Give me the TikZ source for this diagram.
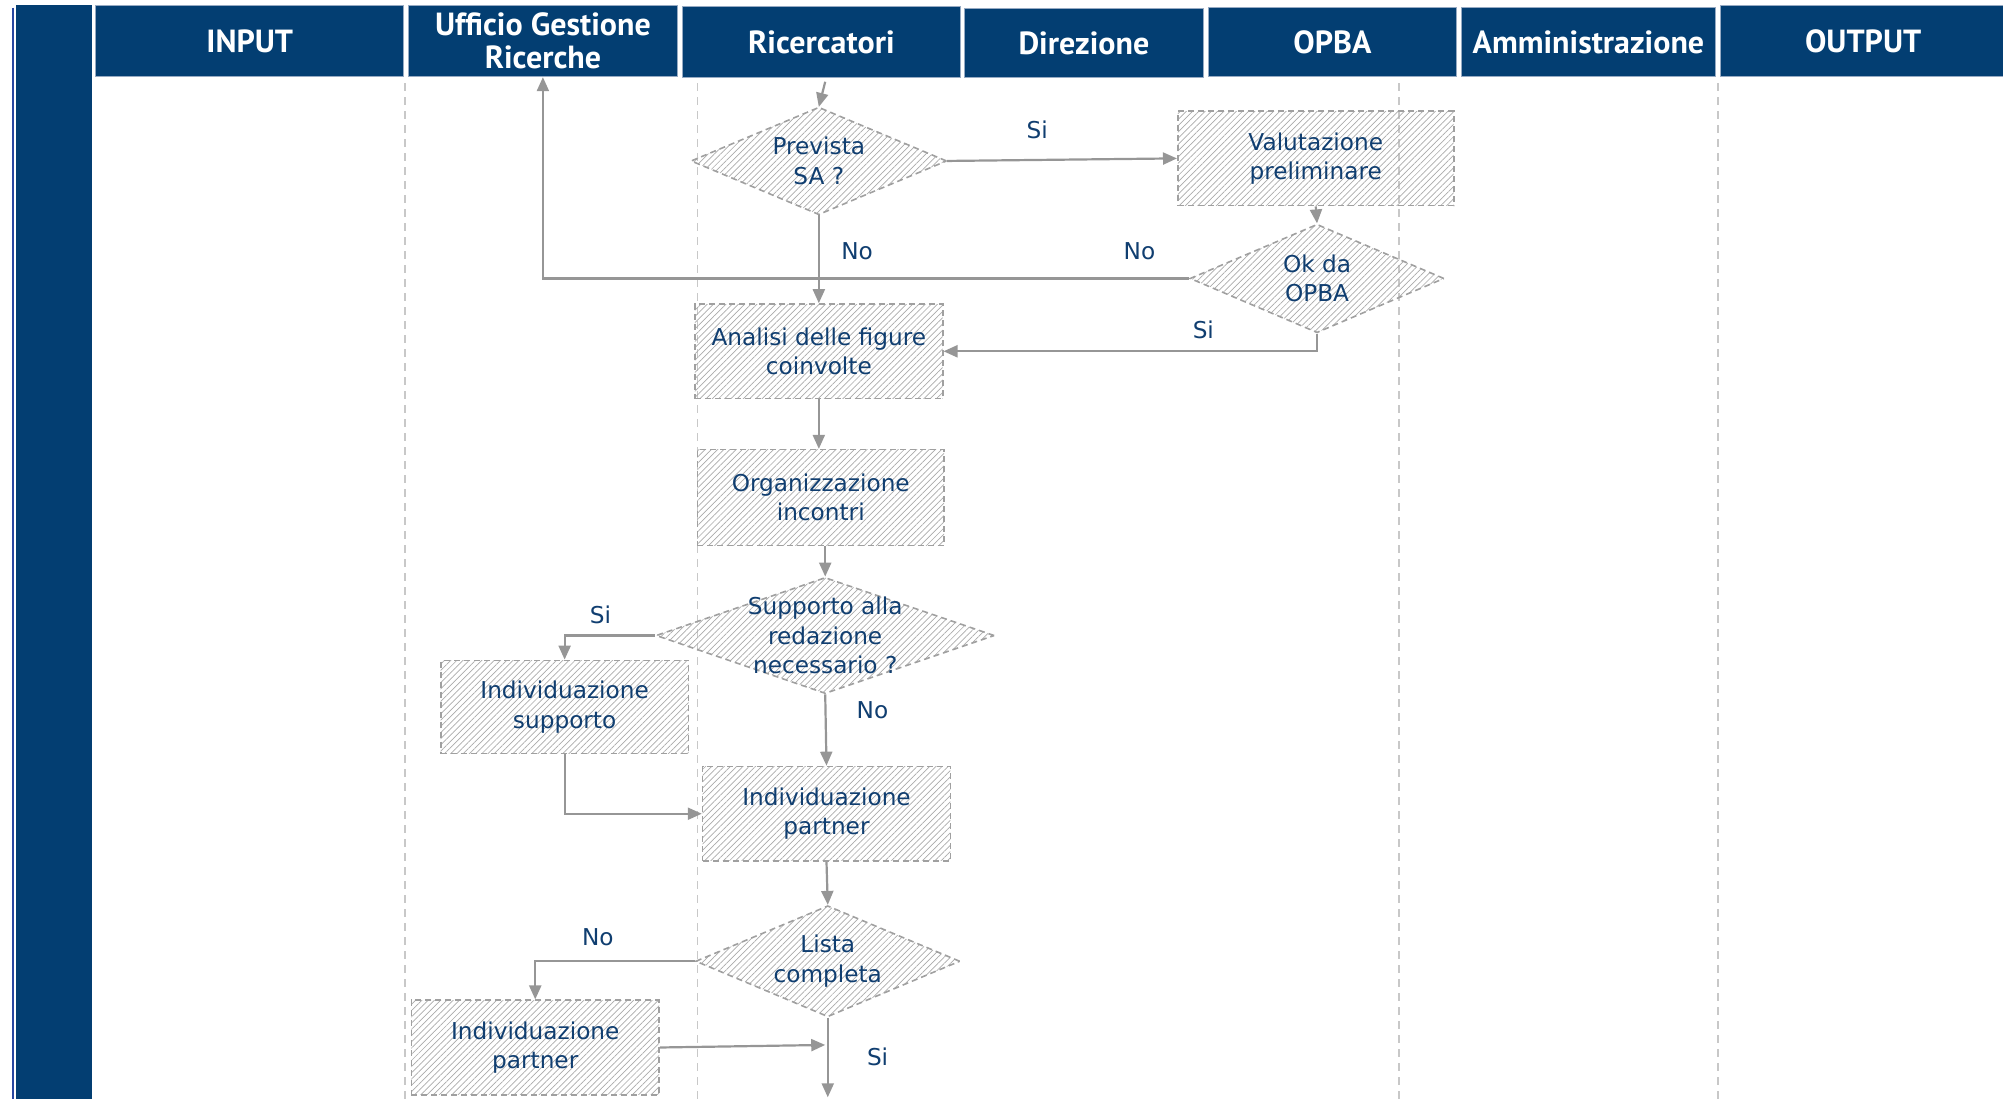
\documentclass[tikz,border=0pt]{standalone}
\usepackage{fontspec}
\setmainfont{DejaVu Sans}
\newfontfamily\hdfont{PT Sans}
\usetikzlibrary{arrows.meta,shapes.geometric,patterns.meta}
\definecolor{navy}{RGB}{3,62,114}
\definecolor{txtblue}{RGB}{16,62,112}
\definecolor{arrgray}{RGB}{150,150,150}
\definecolor{boxgray}{RGB}{160,160,160}
\definecolor{lanegray}{RGB}{200,200,200}
\definecolor{hatch}{RGB}{170,170,170}
\definecolor{hdborder}{RGB}{150,170,195}
\definecolor{edgeblue}{RGB}{40,70,160}
\begin{document}
\begin{tikzpicture}[x=0.6386pt,y=-0.6386pt,
  hd/.style={draw=hdborder,line width=0.5pt,fill=navy,text=white,
    font=\hdfont\bfseries\fontsize{16}{16.6}\selectfont,align=center,inner sep=0pt},
  shaded/.style={draw=boxgray,dash pattern=on 3pt off 2pt,line width=0.8pt,
    pattern={Lines[angle=45,distance=2.2pt,line width=0.35pt]},pattern color=hatch},
  proc/.style={shaded,text=txtblue,font=\fontsize{11.6}{14.7}\selectfont,align=center,
    inner sep=0pt,minimum width={194*0.6386pt},minimum height={74*0.6386pt}},
  dec/.style={shaded,diamond,inner sep=0pt},
  dtxt/.style={text=txtblue,font=\fontsize{11.6}{14.7}\selectfont,align=center},
  lab/.style={text=txtblue,font=\fontsize{11.6}{14.7}\selectfont,inner sep=0pt},
  arr/.style={draw=arrgray,line width=1.1pt,-{Triangle[length=7pt,width=6pt]}},
  lane/.style={draw=lanegray,line width=0.8pt,dash pattern=on 4pt off 3pt}
]
\useasboundingbox (0,0) rectangle (1568,860);
% left bar
\fill[navy] (12.5,4) rectangle (72,860);
\draw[edgeblue,line width=0.8pt] (10,6) -- (10,860);
% headers
\node[hd,minimum width={241*0.6386pt},minimum height={56*0.6386pt}] (hin) at (195.5,32) {INPUT};
\node[hd,minimum width={210*0.6386pt},minimum height={56*0.6386pt}] (huff) at (425,32) {Ufficio Gestione\\Ricerche};
\node[hd,minimum width={218*0.6386pt},minimum height={56*0.6386pt}] (hric) at (643,33) {Ricercatori};
\node[hd,minimum width={187*0.6386pt},minimum height={54*0.6386pt}] (hdir) at (848.5,34) {Direzione};
\node[hd,minimum width={194*0.6386pt},minimum height={54*0.6386pt}] (hopba) at (1043,33) {OPBA};
\node[hd,minimum width={199*0.6386pt},minimum height={54*0.6386pt}] (hamm) at (1243.5,33) {Amministrazione};
\node[hd,minimum width={223*0.6386pt},minimum height={56*0.6386pt}] (hout) at (1458.5,32) {OUTPUT};
% lanes
\draw[lane] (317,65) -- (317,860);
\draw[lane] (546,65) -- (546,860);
\draw[lane] (1095,65) -- (1095,860);
\draw[lane] (1345,65) -- (1345,860);
% nodes
\node[dec,minimum width={200*0.6386pt},minimum height={84*0.6386pt}] (d1) at (641,126) {};
\node[dtxt] (d1t) at (d1) {Prevista\\SA ?};
\node[proc,minimum width={216*0.6386pt}] (r2) at (1030,124) {Valutazione\\preliminare};
\node[dec,minimum width={199*0.6386pt},minimum height={85*0.6386pt}] (d3) at (1031,218) {};
\node[dtxt] (d3t) at (d3) {Ok da\\OPBA};
\node[proc] (r4) at (641,275) {Analisi delle figure\\coinvolte};
\node[proc,minimum width={193*0.6386pt},minimum height={75*0.6386pt}] (r5) at (642.5,389.5) {Organizzazione\\incontri};
\node[dec,minimum width={265*0.6386pt},minimum height={91*0.6386pt}] (d6) at (646,497.5) {};
\node[dtxt] (d6t) at (d6) {Supporto alla\\redazione\\necessario ?};
\node[proc,minimum height={73*0.6386pt}] (r7) at (442,553.5) {Individuazione\\supporto};
\node[proc] (r8) at (647,637) {Individuazione\\partner};
\node[dec,minimum width={207*0.6386pt},minimum height={87*0.6386pt}] (d9) at (648,752.5) {};
\node[dtxt] (d9t) at (d9) {Lista\\completa};
\node[proc] (r10) at (419,820) {Individuazione\\partner};
% free ends
\coordinate (in1) at (646,64);
\coordinate (j1) at (646,818);
\coordinate (out1) at (648,859);
% connectors
\draw[arr] (in1) -- (d1.north);
\draw[arr] (d1.east) -- (r2.west);
\node[lab] (l1) at (812,102) {Si};
\draw[arr] (d1.south) -- (r4.north);
\node[lab] (l2) at (671,197) {No};
\draw[arr] (r2.south) -- (d3.north);
\draw[arr] (d3.west) -| (huff.south);
\node[lab] (l3) at (892,197) {No};
\draw[arr] (d3.south) |- (r4.east);
\node[lab] (l4) at (942,258) {Si};
\draw[arr] (r4.south) -- (r4.south |- r5.north);
\draw[arr] (d6.north |- r5.south) -- (d6.north);
\draw[arr] (d6.west) -| (r7.north);
\node[lab] (l5) at (470,481) {Si};
\draw[arr] (d6.south) -- (r8.north);
\node[lab] (l6) at (683,556) {No};
\draw[arr] (r7.south) |- (r8.west);
\draw[arr] (r8.south) -- (d9.north);
\draw[arr] (d9.west) -| (r10.north);
\node[lab] (l7) at (468,734) {No};
\draw[arr] (r10.east) -- (j1);
\draw[arr] (d9.south) -- (out1);
\node[lab] (l8) at (687,827) {Si};
\end{tikzpicture}
\end{document}
